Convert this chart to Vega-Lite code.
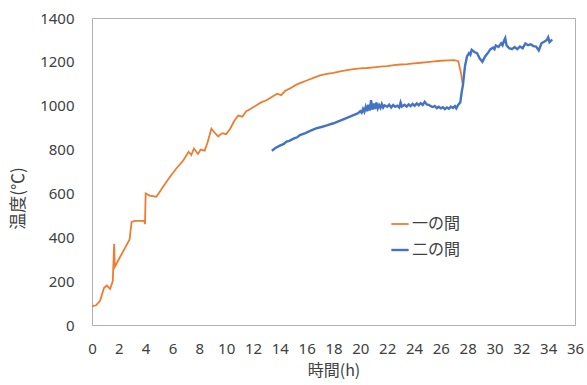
{
  "$schema": "https://vega.github.io/schema/vega-lite/v6.json",
  "width": 483,
  "height": 307,
  "autosize": "none",
  "padding": {"left": 92, "top": 18, "right": 12, "bottom": 60},
  "background": "white",
  "config": {
    "font": "Noto Sans CJK JP",
    "view": {"stroke": "#b0b0b0", "strokeWidth": 1},
    "axis": {"labelFont": "Noto Sans", "labelColor": "#404040", "labelFontSize": 15, "titleFont": "Noto Sans CJK JP", "titleColor": "#404040", "titleFontSize": 16, "titleFontWeight": "normal", "domain": false, "ticks": false, "grid": false}
  },
  "data": {
    "values": [
      {"t": 0, "temp": 85, "series": "一の間"},
      {"t": 0.3, "temp": 90, "series": "一の間"},
      {"t": 0.6, "temp": 110, "series": "一の間"},
      {"t": 0.9, "temp": 170, "series": "一の間"},
      {"t": 1.1, "temp": 180, "series": "一の間"},
      {"t": 1.35, "temp": 165, "series": "一の間"},
      {"t": 1.55, "temp": 200, "series": "一の間"},
      {"t": 1.65, "temp": 370, "series": "一の間"},
      {"t": 1.7, "temp": 265, "series": "一の間"},
      {"t": 2.0, "temp": 300, "series": "一の間"},
      {"t": 2.4, "temp": 345, "series": "一の間"},
      {"t": 2.8, "temp": 390, "series": "一の間"},
      {"t": 2.95, "temp": 470, "series": "一の間"},
      {"t": 3.2, "temp": 475, "series": "一の間"},
      {"t": 3.9, "temp": 475, "series": "一の間"},
      {"t": 3.95, "temp": 460, "series": "一の間"},
      {"t": 4.0, "temp": 600, "series": "一の間"},
      {"t": 4.3, "temp": 590, "series": "一の間"},
      {"t": 4.8, "temp": 585, "series": "一の間"},
      {"t": 5.3, "temp": 630, "series": "一の間"},
      {"t": 5.8, "temp": 675, "series": "一の間"},
      {"t": 6.3, "temp": 715, "series": "一の間"},
      {"t": 6.8, "temp": 750, "series": "一の間"},
      {"t": 7.2, "temp": 790, "series": "一の間"},
      {"t": 7.4, "temp": 775, "series": "一の間"},
      {"t": 7.6, "temp": 805, "series": "一の間"},
      {"t": 7.9, "temp": 780, "series": "一の間"},
      {"t": 8.1, "temp": 800, "series": "一の間"},
      {"t": 8.4, "temp": 795, "series": "一の間"},
      {"t": 8.6, "temp": 830, "series": "一の間"},
      {"t": 8.9, "temp": 895, "series": "一の間"},
      {"t": 9.1, "temp": 880, "series": "一の間"},
      {"t": 9.4, "temp": 860, "series": "一の間"},
      {"t": 9.7, "temp": 875, "series": "一の間"},
      {"t": 10.0, "temp": 870, "series": "一の間"},
      {"t": 10.3, "temp": 895, "series": "一の間"},
      {"t": 10.6, "temp": 930, "series": "一の間"},
      {"t": 10.9, "temp": 955, "series": "一の間"},
      {"t": 11.2, "temp": 950, "series": "一の間"},
      {"t": 11.5, "temp": 975, "series": "一の間"},
      {"t": 11.8, "temp": 985, "series": "一の間"},
      {"t": 12.2, "temp": 1000, "series": "一の間"},
      {"t": 12.6, "temp": 1015, "series": "一の間"},
      {"t": 13.0, "temp": 1025, "series": "一の間"},
      {"t": 13.4, "temp": 1040, "series": "一の間"},
      {"t": 13.8, "temp": 1055, "series": "一の間"},
      {"t": 14.1, "temp": 1048, "series": "一の間"},
      {"t": 14.4, "temp": 1068, "series": "一の間"},
      {"t": 14.8, "temp": 1080, "series": "一の間"},
      {"t": 15.2, "temp": 1095, "series": "一の間"},
      {"t": 15.6, "temp": 1105, "series": "一の間"},
      {"t": 16.0, "temp": 1115, "series": "一の間"},
      {"t": 16.5, "temp": 1127, "series": "一の間"},
      {"t": 17.0, "temp": 1138, "series": "一の間"},
      {"t": 17.5, "temp": 1145, "series": "一の間"},
      {"t": 18.0, "temp": 1150, "series": "一の間"},
      {"t": 18.5, "temp": 1157, "series": "一の間"},
      {"t": 19.0, "temp": 1162, "series": "一の間"},
      {"t": 19.5, "temp": 1167, "series": "一の間"},
      {"t": 20.0, "temp": 1170, "series": "一の間"},
      {"t": 20.5, "temp": 1172, "series": "一の間"},
      {"t": 21.0, "temp": 1175, "series": "一の間"},
      {"t": 21.5, "temp": 1178, "series": "一の間"},
      {"t": 22.0, "temp": 1181, "series": "一の間"},
      {"t": 22.5, "temp": 1185, "series": "一の間"},
      {"t": 23.0, "temp": 1188, "series": "一の間"},
      {"t": 23.5, "temp": 1190, "series": "一の間"},
      {"t": 24.0, "temp": 1193, "series": "一の間"},
      {"t": 24.5, "temp": 1196, "series": "一の間"},
      {"t": 25.0, "temp": 1199, "series": "一の間"},
      {"t": 25.5, "temp": 1202, "series": "一の間"},
      {"t": 26.0, "temp": 1205, "series": "一の間"},
      {"t": 26.5, "temp": 1207, "series": "一の間"},
      {"t": 27.0, "temp": 1208, "series": "一の間"},
      {"t": 27.3, "temp": 1203, "series": "一の間"},
      {"t": 27.5, "temp": 1150, "series": "一の間"},
      {"t": 27.65, "temp": 1090, "series": "一の間"},

      {"t": 13.4, "temp": 795, "series": "二の間"},
      {"t": 13.7, "temp": 808, "series": "二の間"},
      {"t": 14.0, "temp": 818, "series": "二の間"},
      {"t": 14.3, "temp": 826, "series": "二の間"},
      {"t": 14.5, "temp": 836, "series": "二の間"},
      {"t": 14.7, "temp": 840, "series": "二の間"},
      {"t": 15.1, "temp": 852, "series": "二の間"},
      {"t": 15.3, "temp": 856, "series": "二の間"},
      {"t": 15.5, "temp": 866, "series": "二の間"},
      {"t": 15.9, "temp": 875, "series": "二の間"},
      {"t": 16.3, "temp": 886, "series": "二の間"},
      {"t": 16.7, "temp": 897, "series": "二の間"},
      {"t": 17.1, "temp": 903, "series": "二の間"},
      {"t": 17.5, "temp": 910, "series": "二の間"},
      {"t": 18.0, "temp": 920, "series": "二の間"},
      {"t": 18.5, "temp": 932, "series": "二の間"},
      {"t": 19.0, "temp": 945, "series": "二の間"},
      {"t": 19.4, "temp": 955, "series": "二の間"},
      {"t": 19.8, "temp": 965, "series": "二の間"},
      {"t": 20.0, "temp": 975, "series": "二の間"},
      {"t": 20.1, "temp": 968, "series": "二の間"},
      {"t": 20.2, "temp": 985, "series": "二の間"},
      {"t": 20.3, "temp": 972, "series": "二の間"},
      {"t": 20.4, "temp": 995, "series": "二の間"},
      {"t": 20.5, "temp": 975, "series": "二の間"},
      {"t": 20.6, "temp": 1005, "series": "二の間"},
      {"t": 20.7, "temp": 978, "series": "二の間"},
      {"t": 20.8, "temp": 1025, "series": "二の間"},
      {"t": 20.9, "temp": 982, "series": "二の間"},
      {"t": 21.0, "temp": 1010, "series": "二の間"},
      {"t": 21.1, "temp": 985, "series": "二の間"},
      {"t": 21.2, "temp": 1015, "series": "二の間"},
      {"t": 21.3, "temp": 988, "series": "二の間"},
      {"t": 21.4, "temp": 1003, "series": "二の間"},
      {"t": 21.5, "temp": 990, "series": "二の間"},
      {"t": 21.6, "temp": 1008, "series": "二の間"},
      {"t": 21.7, "temp": 992, "series": "二の間"},
      {"t": 21.8, "temp": 1002, "series": "二の間"},
      {"t": 22.0, "temp": 995, "series": "二の間"},
      {"t": 22.15, "temp": 1005, "series": "二の間"},
      {"t": 22.3, "temp": 992, "series": "二の間"},
      {"t": 22.45, "temp": 1003, "series": "二の間"},
      {"t": 22.6, "temp": 995, "series": "二の間"},
      {"t": 22.75, "temp": 1000, "series": "二の間"},
      {"t": 22.9, "temp": 992, "series": "二の間"},
      {"t": 23.0, "temp": 1015, "series": "二の間"},
      {"t": 23.1, "temp": 996, "series": "二の間"},
      {"t": 23.3, "temp": 1004, "series": "二の間"},
      {"t": 23.45, "temp": 996, "series": "二の間"},
      {"t": 23.6, "temp": 1006, "series": "二の間"},
      {"t": 23.75, "temp": 998, "series": "二の間"},
      {"t": 23.9, "temp": 1008, "series": "二の間"},
      {"t": 24.05, "temp": 1000, "series": "二の間"},
      {"t": 24.2, "temp": 1010, "series": "二の間"},
      {"t": 24.35, "temp": 1002, "series": "二の間"},
      {"t": 24.5, "temp": 1012, "series": "二の間"},
      {"t": 24.65, "temp": 1004, "series": "二の間"},
      {"t": 24.8, "temp": 1018, "series": "二の間"},
      {"t": 24.95, "temp": 1006, "series": "二の間"},
      {"t": 25.1, "temp": 1004, "series": "二の間"},
      {"t": 25.25, "temp": 998, "series": "二の間"},
      {"t": 25.4, "temp": 994, "series": "二の間"},
      {"t": 25.55, "temp": 999, "series": "二の間"},
      {"t": 25.7, "temp": 989, "series": "二の間"},
      {"t": 25.85, "temp": 995, "series": "二の間"},
      {"t": 26.0, "temp": 988, "series": "二の間"},
      {"t": 26.15, "temp": 993, "series": "二の間"},
      {"t": 26.3, "temp": 984, "series": "二の間"},
      {"t": 26.45, "temp": 992, "series": "二の間"},
      {"t": 26.6, "temp": 986, "series": "二の間"},
      {"t": 26.75, "temp": 996, "series": "二の間"},
      {"t": 26.9, "temp": 990, "series": "二の間"},
      {"t": 27.05, "temp": 998, "series": "二の間"},
      {"t": 27.15, "temp": 988, "series": "二の間"},
      {"t": 27.3, "temp": 1005, "series": "二の間"},
      {"t": 27.45, "temp": 1015, "series": "二の間"},
      {"t": 27.55, "temp": 1060, "series": "二の間"},
      {"t": 27.65, "temp": 1095, "series": "二の間"},
      {"t": 27.8, "temp": 1180, "series": "二の間"},
      {"t": 27.95, "temp": 1225, "series": "二の間"},
      {"t": 28.1, "temp": 1240, "series": "二の間"},
      {"t": 28.2, "temp": 1232, "series": "二の間"},
      {"t": 28.3, "temp": 1255, "series": "二の間"},
      {"t": 28.5, "temp": 1245, "series": "二の間"},
      {"t": 28.7, "temp": 1240, "series": "二の間"},
      {"t": 28.9, "temp": 1215, "series": "二の間"},
      {"t": 29.1, "temp": 1200, "series": "二の間"},
      {"t": 29.3, "temp": 1225, "series": "二の間"},
      {"t": 29.5, "temp": 1240, "series": "二の間"},
      {"t": 29.7, "temp": 1258, "series": "二の間"},
      {"t": 29.9, "temp": 1265, "series": "二の間"},
      {"t": 30.0, "temp": 1258, "series": "二の間"},
      {"t": 30.1, "temp": 1275, "series": "二の間"},
      {"t": 30.3, "temp": 1268, "series": "二の間"},
      {"t": 30.5, "temp": 1285, "series": "二の間"},
      {"t": 30.6, "temp": 1276, "series": "二の間"},
      {"t": 30.7, "temp": 1295, "series": "二の間"},
      {"t": 30.8, "temp": 1308, "series": "二の間"},
      {"t": 30.9, "temp": 1275, "series": "二の間"},
      {"t": 31.1, "temp": 1262, "series": "二の間"},
      {"t": 31.3, "temp": 1258, "series": "二の間"},
      {"t": 31.5, "temp": 1268, "series": "二の間"},
      {"t": 31.7, "temp": 1258, "series": "二の間"},
      {"t": 31.9, "temp": 1270, "series": "二の間"},
      {"t": 32.1, "temp": 1262, "series": "二の間"},
      {"t": 32.3, "temp": 1284, "series": "二の間"},
      {"t": 32.5, "temp": 1276, "series": "二の間"},
      {"t": 32.7, "temp": 1280, "series": "二の間"},
      {"t": 32.9, "temp": 1272, "series": "二の間"},
      {"t": 33.1, "temp": 1270, "series": "二の間"},
      {"t": 33.3, "temp": 1252, "series": "二の間"},
      {"t": 33.5, "temp": 1285, "series": "二の間"},
      {"t": 33.7, "temp": 1292, "series": "二の間"},
      {"t": 33.9, "temp": 1300, "series": "二の間"},
      {"t": 34.0, "temp": 1312, "series": "二の間"},
      {"t": 34.1, "temp": 1290, "series": "二の間"},
      {"t": 34.3, "temp": 1302, "series": "二の間"}
    ]
  },
  "mark": {"type": "line", "interpolate": "linear"},
  "encoding": {
    "x": {
      "field": "t", "type": "quantitative",
      "scale": {"domain": [0, 36], "nice": false, "zero": true},
      "axis": {"title": "時間(h)", "values": [0,2,4,6,8,10,12,14,16,18,20,22,24,26,28,30,32,34,36], "format": "d", "labelPadding": 16, "titlePadding": 6, "labelFlush": false, "labelOverlap": false}
    },
    "y": {
      "field": "temp", "type": "quantitative",
      "scale": {"domain": [0, 1400], "nice": false},
      "axis": {"title": "温度(℃)", "titleFontSize": 17, "titleY": 180, "values": [0,200,400,600,800,1000,1200,1400], "format": "d", "labelPadding": 18, "titlePadding": 12}
    },
    "color": {
      "field": "series", "type": "nominal",
      "scale": {"domain": ["一の間", "二の間"], "range": ["#ED7D31", "#4472C4"]},
      "legend": {"title": null, "orient": "none", "legendX": 298, "legendY": 196, "symbolType": "stroke", "symbolSize": 300, "symbolStrokeWidth": 1.5, "labelFont": "Noto Sans CJK JP", "labelFontSize": 16, "labelColor": "#404040", "rowPadding": 8, "labelOffset": 2}
    },
    "strokeWidth": {
      "field": "series", "type": "nominal",
      "scale": {"domain": ["一の間", "二の間"], "range": [1.8, 2.4]},
      "legend": null
    }
  }
}
